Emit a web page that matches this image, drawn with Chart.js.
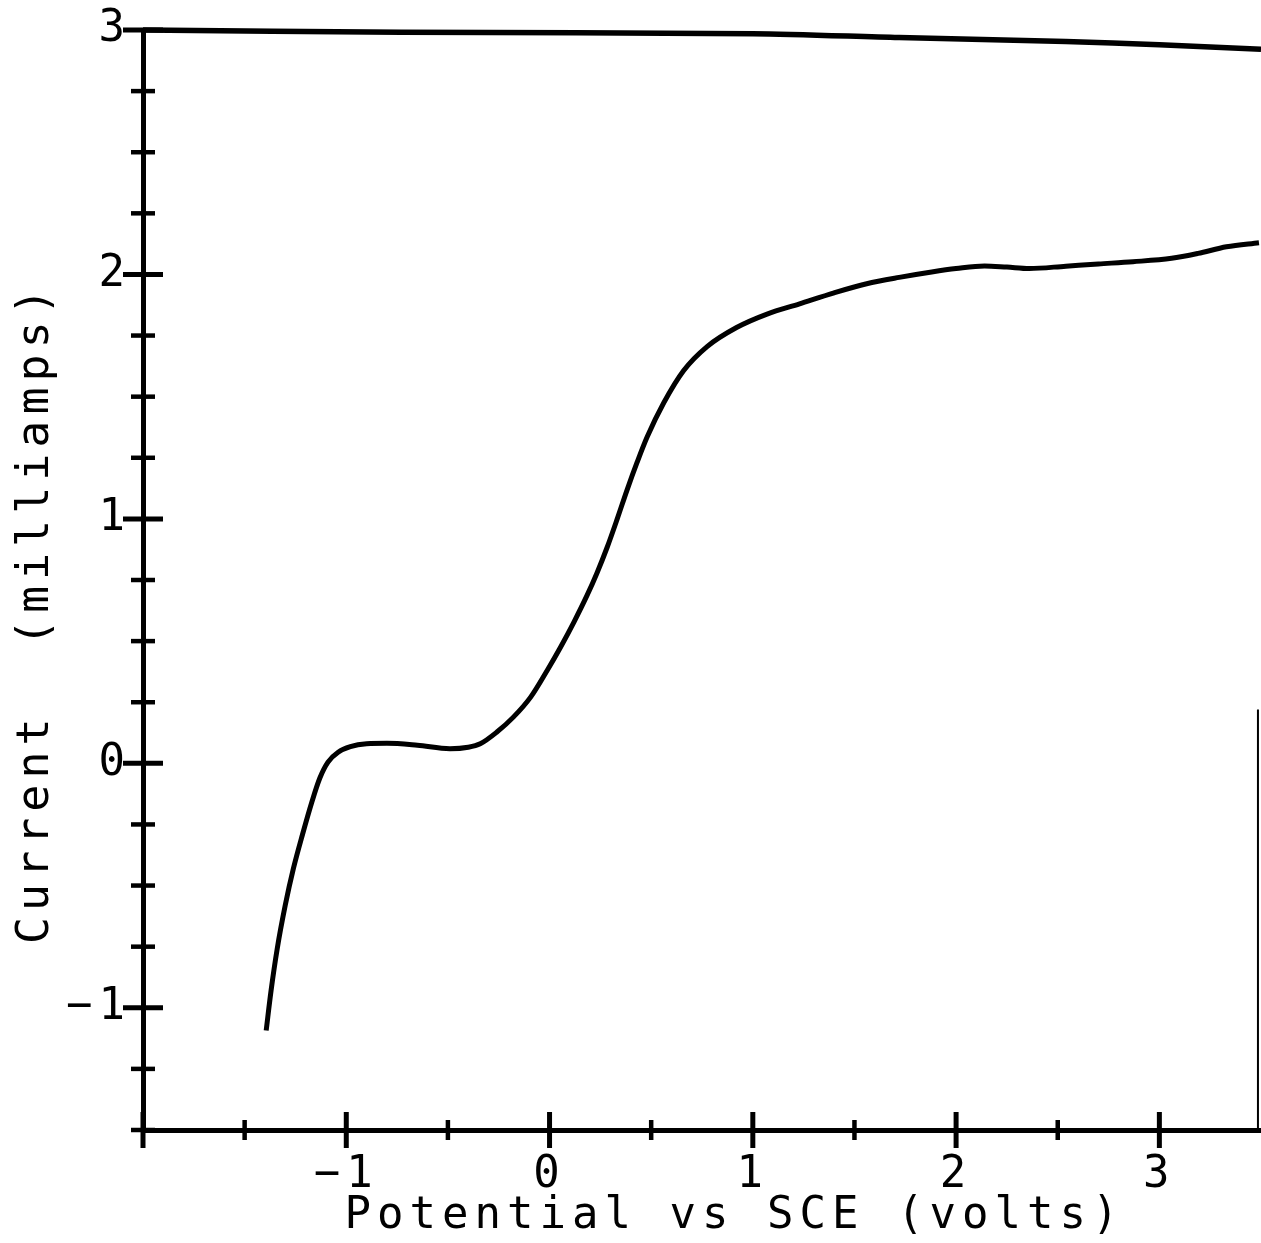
<!DOCTYPE html>
<html>
<head>
<meta charset="utf-8">
<title>Current vs Potential</title>
<script src="https://cdn.jsdelivr.net/npm/chart.js@4.4.1/dist/chart.umd.min.js"></script>
<style>
  html, body { margin: 0; padding: 0; background: #fff; }
  #wrap { width: 1261px; height: 1243px; }
</style>
</head>
<body>
<div id="wrap"><canvas id="ivChart" width="1261" height="1243"></canvas></div>
<script>
/* values */

// main sweep (volts vs SCE, milliamps)
const potential = [
  -1.394, -1.370, -1.340, -1.300, -1.260, -1.215, -1.170, -1.130, -1.090, -1.040,
  -0.980, -0.900, -0.800, -0.650, -0.490, -0.400, -0.341, -0.259, -0.178, -0.093,
  -0.011, 0.054, 0.120, 0.185, 0.234, 0.284, 0.333, 0.382, 0.431, 0.480,
  0.562, 0.660, 0.775, 0.920, 1.070, 1.230, 1.400, 1.560, 1.720, 1.880,
  2.000, 2.140, 2.250, 2.360, 2.540, 2.700, 2.870, 3.060, 3.190, 3.330,
  3.490
];
const current = [
  -1.093, -0.930, -0.760, -0.580, -0.430, -0.290, -0.160, -0.060, 0.005, 0.045,
  0.068, 0.080, 0.082, 0.074, 0.060, 0.066, 0.080, 0.128, 0.189, 0.271,
  0.381, 0.475, 0.578, 0.688, 0.780, 0.885, 1.000, 1.120, 1.232, 1.335,
  1.475, 1.607, 1.705, 1.783, 1.838, 1.880, 1.925, 1.962, 1.988, 2.010,
  2.024, 2.035, 2.030, 2.024, 2.034, 2.043, 2.052, 2.066, 2.086, 2.113,
  2.130
];

// trace running along the top edge
const upperPotential = [-2.0, -0.73, 1.0, 1.72, 2.54, 3.0, 3.5];
const upperCurrent = [3.0, 2.991, 2.985, 2.969, 2.953, 2.940, 2.921];

// stub of the right-hand frame
const edgePotential = [3.485, 3.485];
const edgeCurrent = [0.22, -1.5];

const X_MIN = -2, X_MAX = 3.5;
const Y_MIN = -1.5, Y_MAX = 3;

const FONT = "'DejaVu Sans Mono', monospace";

function toPoints(xs, ys) {
  return xs.map((x, i) => ({ x: x, y: ys[i] }));
}

function isWhole(v) {
  return Math.abs(v - Math.round(v)) < 1e-9;
}

function tickLabel(v) {
  if (!isWhole(v)) return "";
  if (v === X_MIN) return "";
  return v < 0 ? "\u2212" + Math.abs(v) : String(v);
}

// plotter-style ticks that cross the axis line
const plotterTicks = {
  id: "plotterTicks",
  beforeDraw(chart) {
    chart.ctx.letterSpacing = "6px";
  },
  afterDraw(chart) {
    const { ctx, chartArea, scales } = chart;
    ctx.save();
    ctx.strokeStyle = "#000";
    ctx.lineCap = "butt";

    scales.y.ticks.forEach((t) => {
      const py = scales.y.getPixelForValue(t.value);
      const major = isWhole(t.value);
      const len = major ? 20 : 12;
      ctx.lineWidth = major ? 5 : 4.5;
      ctx.beginPath();
      ctx.moveTo(chartArea.left - len, py);
      ctx.lineTo(chartArea.left + len, py);
      ctx.stroke();
    });

    scales.x.ticks.forEach((t) => {
      if (t.value >= X_MAX) return;
      const px = scales.x.getPixelForValue(t.value);
      const major = isWhole(t.value);
      const len = major ? 18 : 10;
      ctx.lineWidth = major ? 5 : 4.5;
      ctx.beginPath();
      ctx.moveTo(px, chartArea.bottom - len);
      ctx.lineTo(px, chartArea.bottom + len);
      ctx.stroke();
    });
    ctx.restore();
  },
};

new Chart(document.getElementById("ivChart"), {
  type: "line",
  data: {
    datasets: [
      {
        data: toPoints(potential, current),
        borderColor: "#000",
        borderWidth: 5,
        pointRadius: 0,
        cubicInterpolationMode: "monotone",
        clip: 10,
      },
      {
        data: toPoints(upperPotential, upperCurrent),
        borderColor: "#000",
        borderWidth: 5.5,
        pointRadius: 0,
        tension: 0.3,
        clip: 10,
      },
      {
        data: toPoints(edgePotential, edgeCurrent),
        borderColor: "#000",
        borderWidth: 2,
        pointRadius: 0,
        clip: 10,
      },
    ],
  },
  options: {
    responsive: false,
    devicePixelRatio: 1,
    animation: false,
    parsing: false,
    layout: { padding: { top: 30, right: 0, bottom: 0, left: 0 } },
    plugins: {
      legend: { display: false },
      tooltip: { enabled: false },
    },
    scales: {
      x: {
        type: "linear",
        min: X_MIN,
        max: X_MAX,
        afterFit(scale) {
          scale.height = 113;
        },
        grid: { display: false, drawTicks: false },
        border: { display: true, color: "#000", width: 5 },
        ticks: {
          stepSize: 0.5,
          autoSkip: false,
          maxRotation: 0,
          padding: 0,
          color: "#000",
          font: { family: FONT, size: 44, lineHeight: "92px" },
          callback: tickLabel,
        },
        title: {
          display: true,
          text: "  Potential vs SCE (volts)",
          color: "#000",
          font: { family: FONT, size: 44, lineHeight: 1 },
          padding: { top: 0, bottom: 4 },
        },
      },
      y: {
        type: "linear",
        min: Y_MIN,
        max: Y_MAX,
        afterFit(scale) {
          scale.width = 143;
        },
        grid: { display: false, drawTicks: false },
        border: { display: true, color: "#000", width: 5 },
        ticks: {
          stepSize: 0.25,
          autoSkip: false,
          padding: 12,
          color: "#000",
          font: { family: FONT, size: 44, lineHeight: "10px" },
          callback: (v) => (isWhole(v) && v !== Y_MIN ? tickLabel(v) : ""),
        },
        title: {
          display: true,
          text: "Current  (milliamps)  ",
          color: "#000",
          font: { family: FONT, size: 45, lineHeight: 1 },
          padding: { top: 14, bottom: 0 },
        },
      },
    },
  },
  plugins: [plotterTicks],
});
</script>
</body>
</html>
